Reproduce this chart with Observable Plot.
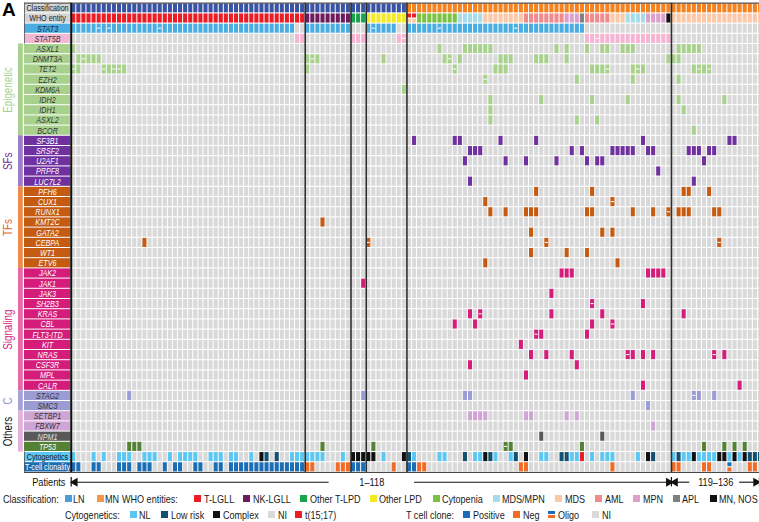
<!DOCTYPE html>
<html>
<head>
<meta charset="utf-8">
<script src="https://cdn.jsdelivr.net/npm/d3@7"></script>
<script src="https://cdn.jsdelivr.net/npm/@observablehq/plot@0.6"></script>
<style>
  html,body{margin:0;padding:0;background:#fff;}
  #wrap{position:relative;width:759px;height:522px;overflow:hidden;background:#fff;}
  #wrap svg{display:block;}
  .lg{position:absolute;font-family:"Liberation Sans",Arial,sans-serif;font-size:11.6px;color:#1a1a1a;line-height:12px;white-space:nowrap;transform:scaleX(0.78);transform-origin:0 50%;}
  .sw{position:absolute;width:7px;height:7px;}
</style>
</head>
<body>
<div id="wrap"></div>
<script>
// ---------------- DATA ----------------
const nPatients = 136;
const rowNames = ["Classification","WHO entity","STAT3","STAT5B",
  "ASXL1","DNMT3A","TET2","EZH2","KDM6A","IDH2","IDH1","ASXL2","BCOR",
  "SF3B1","SRSF2","U2AF1","PRPF8","LUC7L2",
  "PFH6","CUX1","RUNX1","KMT2C","GATA2","CEBPA","WT1","ETV6",
  "JAK2","JAK1","JAK3","SH2B3","KRAS","CBL","FLT3-ITD","KIT","NRAS","CSF3R","MPL","CALR",
  "STAG2","SMC3","SETBP1","FBXW7","NPM1","TP53","Cytogenetics","T-cell clonality"];

const geneGroups = [
  ["Epigenetic", ["ASXL1","DNMT3A","TET2","EZH2","KDM6A","IDH2","IDH1","ASXL2","BCOR"]],
  ["SFs", ["SF3B1","SRSF2","U2AF1","PRPF8","LUC7L2"]],
  ["TFs", ["PFH6","CUX1","RUNX1","KMT2C","GATA2","CEBPA","WT1","ETV6"]],
  ["Signaling", ["JAK2","JAK1","JAK3","SH2B3","KRAS","CBL","FLT3-ITD","KIT","NRAS","CSF3R","MPL","CALR"]],
  ["C", ["STAG2","SMC3"]],
  ["Others", ["SETBP1","FBXW7","NPM1","TP53"]]
];

// patient order (0-based column) runs
const classificationRuns = [["LN",66],["MN",70]];
const whoRuns = [["T-LGLL",46],["NK-LGLL",9],["Other T-LPD",3],["Other LPD",8],["T-LGLL/MDS",2],
  ["Cytopenia",8],["MDS/MPN",5],["MDS",8],["AML",8],["MPN",3],["APL",1],["AML",5],["MDS",3],
  ["MDS/MPN",4],["MPN",4],["MN, NOS",1],["MDS",18]];

const stat3Ranges = [[0,43],[46,54],[58,63],[66,100]];
const stat3Double = [5,7,17,59,72,87];
const stat5bRanges = [[44,45],[55,57],[64,65],[101,117]];
const stat5bDouble = [65,103];

// [gene, mutated patients, patients with two mutations]
const epigeneticMut = [
  ["ASXL1",[0,72,77,78,79,80,81,82,95,97,101,104,105,108,109,110,119,120,121,122,123],[]],
  ["DNMT3A",[1,2,3,4,5,46,47,48,61,73,74,76,84,85,86,91,92,93,97,117,118,119],[2,47,74]],
  ["TET2",[0,1,6,7,8,9,10,46,75,83,84,85,102,103,104,105,110,111,112,122,123,124,125],[0,6,8,9,75,105,111,123,125]],
  ["EZH2",[81,99,110,119],[81]],
  ["KDM6A",[65],[]],
  ["IDH2",[82,92,102,109,119,128],[]],
  ["IDH1",[82,120],[]],
  ["ASXL2",[82,99,103],[]],
  ["BCOR",[122],[]]
];
const sfMut = [
  ["SF3B1",[67,75,76,84,91,112,129,130],[]],
  ["SRSF2",[78,79,80,98,100,106,107,108,109,110,113,114,121,122,123,125,126],[]],
  ["U2AF1",[77,85,89,95,101,103,104,124],[]],
  ["PRPF8",[115],[]],
  ["LUC7L2",[78,122],[]]
];
const tfMut = [
  ["PFH6",[91,102,120,121,125],[]],
  ["CUX1",[81,106],[106]],
  ["RUNX1",[82,85,89,90,91,101,102,110,114,117,119,120,121,126,127],[117]],
  ["KMT2C",[49],[]],
  ["GATA2",[90,104,106],[]],
  ["CEBPA",[14,58,93,127],[58,93,127]],
  ["WT1",[90,97,101],[]],
  ["ETV6",[81,107],[]]
];
const signalingMut = [
  ["JAK2",[96,97,98,113,114,115,116],[]],
  ["JAK1",[57],[]],
  ["JAK3",[94],[]],
  ["SH2B3",[102,112],[102]],
  ["KRAS",[78,80,94,104,120],[80]],
  ["CBL",[75,79,102,106],[106]],
  ["FLT3-ITD",[91,92,101],[91]],
  ["KIT",[88],[]],
  ["NRAS",[90,93,98,109,110,112,114,126,128],[109,126]],
  ["CSF3R",[78,99],[]],
  ["MPL",[89],[]],
  ["CALR",[112,131],[]]
];
const cohesinMut = [
  ["STAG2",[11,57,77,78,110,122,123,126],[122]],
  ["SMC3",[113],[]]
];
const otherMut = [
  ["SETBP1",[78,79,80,81,89,90,97,99],[]],
  ["FBXW7",[114],[]],
  ["NPM1",[92,104],[]],
  ["TP53",[11,12,13,49,59,85,86,100,124,128,130,132],[85]]
];

const cytoNL = [0,4,6,9,10,11,14,15,16,19,21,22,23,24,27,28,29,31,32,35,43,44,45,46,47,48,49,53,61,67,
  72,73,79,80,83,86,92,93,98,99,102,104,105,106,111,118,120,121,123,124,125,126,129,131];
const cytoLowRisk = [38,40,66,77,82,87,96,97,114,119,133,134,135];
const cytoComplex = [37,55,56,57,58,59,65,81,89,113,122,127,128,130,132];
const cytoT1517 = [100];

const tcellPositive = [0,1,4,5,9,10,11,13,14,15,18,20,21,24,25,28,29,31,32,33,34,35,36,37,38,39,40,41,42,43,44,45,55,56,57,66,67];
const tcellNeg = [46,47,52,53,54,63,68,69,88,89,106,118,119,124,125,133,134];
const tcellOligo = [129];

const sectionBreaks = [46,55,58,66,118];

const legendClassification = ["LN","MN"];
const legendWHO = ["T-LGLL","NK-LGLL","Other T-LPD","Other LPD","Cytopenia","MDS/MPN","MDS","AML","MPN","APL","MN, NOS"];
const legendCyto = ["NL","Low risk","Complex","NI","t(15;17)"];
const legendTcell = ["Positive","Neg","Oligo","NI"];

// ---------------- STYLES ----------------
const NA = "#d9d9d9";
const classColor = {LN:"#3a54a5", MN:"#f5821f"};
const classLegendColor = {LN:"#4a9fd9", MN:"#f7954b"};
const whoColor = {"T-LGLL":"#ec1c24","NK-LGLL":"#6e1b5b","Other T-LPD":"#17a44a","Other LPD":"#f5e924",
  "Cytopenia":"#7bc143","MDS/MPN":"#a6dbea","MDS":"#fcc8a8","AML":"#f18a8c","MPN":"#dd9fcb","APL":"#808080","MN, NOS":"#111111"};
const cytoColor = {NL:"#5bc7f2","Low risk":"#12506f",Complex:"#111111",NI:NA,"t(15;17)":"#ec1c24"};
const tcellColor = {Positive:"#1b6db5",Neg:"#f26a24",NI:NA};
const groupStyle = {
  Epigenetic:{bar:"#a9d18e", title:"#a9d18e"},
  SFs:{bar:"#9c7cc4", title:"#7030a0"},
  TFs:{bar:"#eb8a4a", title:"#e2681c"},
  Signaling:{bar:"#e46aa8", title:"#d41c7a"},
  C:{bar:"#a3a3da", title:"#8e8ecb"},
  Others:{bar:"#e3b2dc", title:"#111111"}
};
const geneCellColor = (g) => {
  const grp = geneGroups.find(([, genes]) => genes.includes(g))[0];
  if (grp === "Epigenetic") return "#a9d18e";
  if (grp === "SFs") return "#7030a0";
  if (grp === "TFs") return "#c55a11";
  if (grp === "Signaling") return "#d41c7a";
  if (grp === "C") return "#9c9cd5";
  if (g === "NPM1") return "#595959";
  if (g === "TP53") return "#548235";
  return "#cfa5d5";
};
const labelStyle = (name) => {
  if (name === "Classification" || name === "WHO entity") return {bg:"#d4d4d4", fg:"#222"};
  if (name === "STAT3") return {bg:"#4aade2", fg:"#17243d"};
  if (name === "STAT5B") return {bg:"#f4b7d3", fg:"#333"};
  if (name === "Cytogenetics") return {bg:"#5bc7f2", fg:"#151515"};
  if (name === "T-cell clonality") return {bg:"#1b6db5", fg:"#ffffff"};
  const bg = geneCellColor(name);
  const light = ["#a9d18e","#9c9cd5","#cfa5d5"].includes(bg);
  return {bg, fg: light ? "#333" : (name === "NPM1" ? "#e0e0e0" : "#ffffff")};
};
const FONT = '"Liberation Sans",Arial,sans-serif';
const NARROW = 0.78;

// ---------------- BUILD CELLS ----------------
const R = new Map(rowNames.map((n, i) => [n, i]));
const grid = new Map();
const key = (r, c) => r * 1000 + c;
const halves = [];
const dashes = [];
let col = 0;
for (const [cat, n] of classificationRuns) for (let k = 0; k < n; k++, col++) grid.set(key(0, col), classColor[cat]);
col = 0;
for (const [cat, n] of whoRuns) for (let k = 0; k < n; k++, col++) {
  if (cat === "T-LGLL/MDS") {
    grid.set(key(1, col), "skip");
    halves.push({c: col, y1: 1, y2: 1.5, fill: whoColor["T-LGLL"]}, {c: col, y1: 1.5, y2: 2, fill: whoColor["MDS"]});
  } else grid.set(key(1, col), whoColor[cat]);
}
for (const [a, b] of stat3Ranges) for (let c = a; c <= b; c++) grid.set(key(2, c), "#4aade2");
for (const c of stat3Double) dashes.push({r: 2, c});
for (const [a, b] of stat5bRanges) for (let c = a; c <= b; c++) grid.set(key(3, c), "#f5b5d2");
for (const c of stat5bDouble) dashes.push({r: 3, c});
for (const [g, cols, dbl] of [...epigeneticMut, ...sfMut, ...tfMut, ...signalingMut, ...cohesinMut, ...otherMut]) {
  const r = R.get(g), fill = geneCellColor(g);
  for (const c of cols) grid.set(key(r, c), fill);
  for (const c of dbl) dashes.push({r, c});
}
const rc = R.get("Cytogenetics");
for (const c of cytoNL) grid.set(key(rc, c), cytoColor.NL);
for (const c of cytoLowRisk) grid.set(key(rc, c), cytoColor["Low risk"]);
for (const c of cytoComplex) grid.set(key(rc, c), cytoColor.Complex);
for (const c of cytoT1517) grid.set(key(rc, c), cytoColor["t(15;17)"]);
const rt = R.get("T-cell clonality");
for (const c of tcellPositive) grid.set(key(rt, c), tcellColor.Positive);
for (const c of tcellNeg) grid.set(key(rt, c), tcellColor.Neg);
for (const c of tcellOligo) {
  grid.set(key(rt, c), "skip");
  halves.push({c, y1: rt, y2: rt + 0.5, fill: tcellColor.Positive}, {c, y1: rt + 0.5, y2: rt + 1, fill: tcellColor.Neg});
}
const cells = [];
for (let r = 0; r < rowNames.length; r++) for (let c = 0; c < nPatients; c++) {
  const f = grid.get(key(r, c)) ?? NA;
  if (f !== "skip") cells.push({r, c, fill: f});
}

const rowsData = rowNames.map((name, i) => ({name, i, ...labelStyle(name),
  italic: !["Classification","WHO entity","Cytogenetics","T-cell clonality"].includes(name)}));
let gStart = 4;
const groupsData = geneGroups.map(([name, genes]) => {
  const d = {name, y1: gStart, y2: gStart + genes.length, ...groupStyle[name]};
  gStart += genes.length; return d;
});

// ---------------- LAYOUT (in scale units) ----------------
const LX = -9.18;      // label column left edge
const LC = -4.66;      // label text centre
const PY = 46.96;      // patients arrow line

const arrowSegs = [{x1: 0.3, x2: 50.7}, {x1: 67.5, x2: 117.3}, {x1: 118.8, x2: 121.6}, {x1: 131.4, x2: 134.6}];
const arrowHeads = [{x: 0.75, rot: -90}, {x: 117.45, rot: 90}, {x: 118.75, rot: -90}, {x: 134.6, rot: 90}];
const arrowLabels = [{x: 59.1, t: "1\u2013118"}, {x: 126.7, t: "119\u2013136"}];

const plot = Plot.plot({
  width: 759, height: 490, margin: 0,
  x: {type: "linear", domain: [0, nPatients], range: [70.7, 762.5], axis: null},
  y: {type: "linear", domain: [0, rowNames.length], range: [2.7, 471.9], axis: null},
  color: {type: "identity"},
  style: {background: "#fff", fontFamily: FONT},
  marks: [
    Plot.rect(cells, {x1: "c", x2: d => d.c + 1, y1: "r", y2: d => d.r + 1, fill: "fill",
      insetLeft: 0.5, insetRight: 0.5, insetTop: 0.55, insetBottom: 0.55}),
    Plot.rect(halves, {x1: "c", x2: d => d.c + 1, y1: "y1", y2: "y2", fill: "fill",
      insetLeft: 0.5, insetRight: 0.5, insetTop: 0.55, insetBottom: 0.55}),
    Plot.rect(dashes, {x1: d => d.c + 0.2, x2: d => d.c + 0.8, y1: d => d.r + 0.45, y2: d => d.r + 0.55, fill: "#ffffff"}),
    // label column
    Plot.rect(rowsData, {x1: LX, x2: -0.1, y1: "i", y2: d => d.i + 1, fill: "bg", insetTop: 0.5, insetBottom: 0.5}),
    Plot.text(rowsData.filter(d => d.italic), {x: LC, y: d => d.i + 0.5, text: "name", fill: "fg",
      fontSize: 9.2, fontStyle: "italic", fontFamily: FONT}),
    Plot.text(rowsData.filter(d => !d.italic), {x: LC, y: d => d.i + 0.5, text: "name", fill: "fg",
      fontSize: 9.2, fontFamily: FONT}),
    // group bars & titles
    Plot.rect(groupsData, {x1: -10.36, x2: -9.42, y1: "y1", y2: "y2", fill: "bar"}),
    Plot.text(groupsData, {x: -12.45, y: d => (d.y1 + d.y2) / 2, text: "name", fill: "title",
      rotate: -90, fontSize: 12.5, fontFamily: FONT}),
    // frame & separators
    Plot.ruleY([0], {x1: LX, x2: nPatients, stroke: "#555", strokeWidth: 1.2}),
    Plot.ruleY([rowNames.length], {x1: LX, x2: nPatients, stroke: "#333", strokeWidth: 1}),
    Plot.ruleX([LX], {y1: 0, y2: 4, stroke: "#555", strokeWidth: 0.8}),
    Plot.ruleX([LX], {y1: 44, y2: 46, stroke: "#555", strokeWidth: 0.8}),
    Plot.ruleX(sectionBreaks, {y1: 0, y2: rowNames.length, stroke: "#2e2e2e", strokeWidth: 1.6}),
    Plot.ruleX([0], {y1: 0, y2: rowNames.length, stroke: "#111", strokeWidth: 2}),
    // patients annotation
    Plot.text(["Patients"], {x: -7.67, y: PY, text: d => d, textAnchor: "start", fontSize: 11.8, fill: "#111", fontFamily: FONT}),
    Plot.ruleX([0, 118, 135.3], {y1: 46.5, y2: 47.42, stroke: "#111", strokeWidth: 1.2}),
    Plot.ruleY(arrowSegs, {x1: "x1", x2: "x2", y: PY, stroke: "#111", strokeWidth: 1.1}),
    Plot.dot(arrowHeads, {x: "x", y: PY, symbol: "triangle", r: 3.3, fill: "#111", stroke: "none", rotate: "rot"}),
    Plot.text(arrowLabels, {x: "x", y: PY, text: "t", fontSize: 11.8, fill: "#111", fontFamily: FONT}),
    // panel letter
    Plot.text(["A"], {x: -12.25, y: 0.62, text: d => d, fontSize: 19, fontWeight: "bold", fill: "#000",
      fontFamily: '"Liberation Sans",Arial,sans-serif'})
  ]
});
const wrap = document.getElementById("wrap");
wrap.appendChild(plot);

// condense SVG texts (reference uses a condensed face)
d3.select(plot).selectAll("text").each(function () {
  if (this.textContent === "A") return;
  const w = this.getComputedTextLength();
  if (w > 0) { this.setAttribute("textLength", (w * NARROW).toFixed(2)); this.setAttribute("lengthAdjust", "spacingAndGlyphs"); }
});

// ---------------- HTML LEGEND ----------------
const row1Y = 498.5, row2Y = 514.5;
function addText(txt, left, cy) {
  const s = document.createElement("div"); s.className = "lg"; s.textContent = txt;
  s.style.left = left + "px"; s.style.top = (cy - 6) + "px"; wrap.appendChild(s);
}
function addSwatch(bg, left, cy) {
  const s = document.createElement("div"); s.className = "sw"; s.style.background = bg;
  s.style.left = left + "px"; s.style.top = (cy - 3.5) + "px"; wrap.appendChild(s);
}
const row1Layout = {title1: 3, title2: 122,
  sw: [64.5, 96.5, 194, 242.5, 299.5, 369.5, 432.5, 492.5, 555, 595, 633, 672.5, 709.5],
  tx: [73, 104.5, 203.5, 252.5, 309.5, 379, 442, 502, 564.5, 604.5, 643, 682, 719]};
const row2Layout = {title1: 65, title2: 406,
  sw: [129.5, 160.5, 212.5, 268, 295, 462.5, 513, 548, 592],
  tx: [139, 171, 223, 278, 305, 473, 523, 558, 601.5]};

addText("Classification:", row1Layout.title1, row1Y);
addText("WHO entities:", row1Layout.title2, row1Y);
const row1Items = [...legendClassification.map(d => [d, classLegendColor[d]]), ...legendWHO.map(d => [d, whoColor[d]])];
row1Items.forEach(([lab, colr], i) => { addSwatch(colr, row1Layout.sw[i], row1Y); addText(lab, row1Layout.tx[i], row1Y); });

addText("Cytogenetics:", row2Layout.title1, row2Y);
addText("T cell clone:", row2Layout.title2, row2Y);
const row2Items = [...legendCyto.map(d => [d, cytoColor[d]]),
  ...legendTcell.map(d => [d, d === "Oligo"
    ? `linear-gradient(${tcellColor.Positive} 0 42%, #fff 42% 58%, ${tcellColor.Neg} 58% 100%)` : tcellColor[d]])];
row2Items.forEach(([lab, colr], i) => { addSwatch(colr, row2Layout.sw[i], row2Y); addText(lab, row2Layout.tx[i], row2Y); });
</script>
</body>
</html>
